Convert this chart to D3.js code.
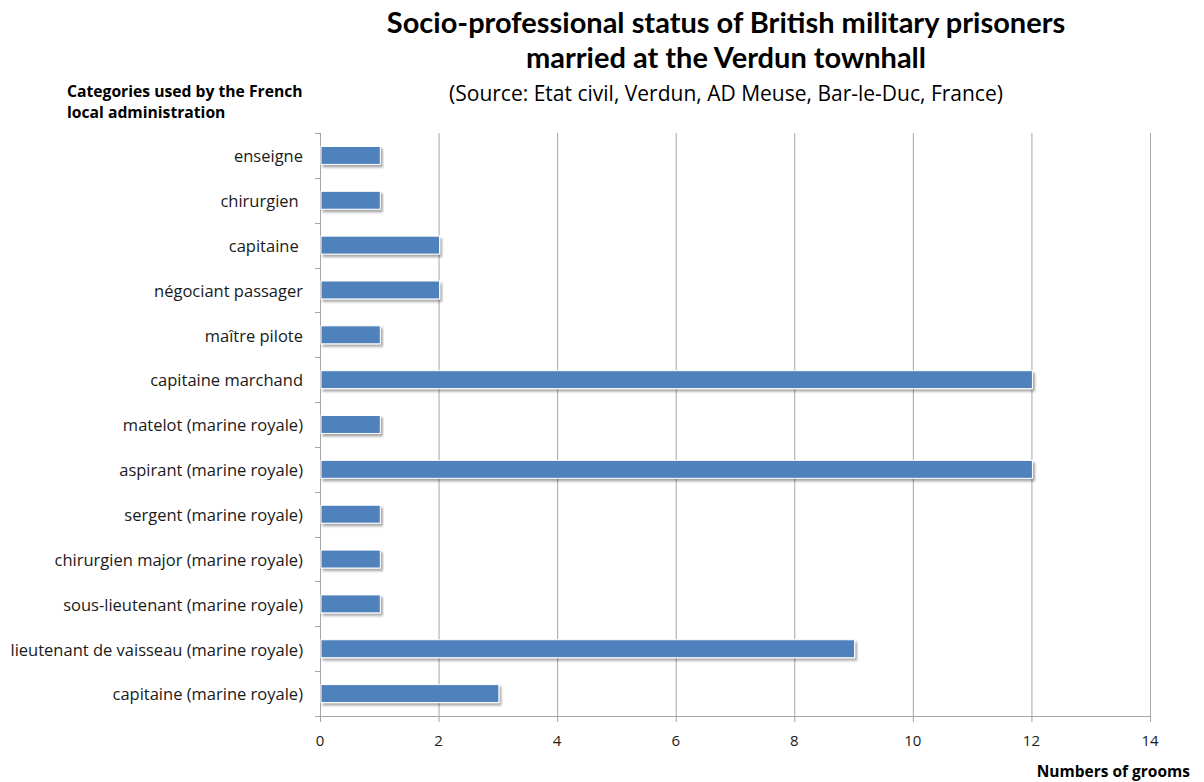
<!DOCTYPE html>
<html>
<head>
<meta charset="utf-8">
<script src="https://cdn.jsdelivr.net/npm/d3@7"></script>
<style>
  html, body { margin: 0; padding: 0; background: #fff; }
  svg { display: block; font-family: "Open Sans", Lato, sans-serif; }
  .cat { white-space: pre; }
  .title { font-family: Lato, "Open Sans", sans-serif; }
</style>
</head>
<body>
<svg id="chart" width="1204" height="782"></svg>
<script>
// Occupations as recorded in the civil register, top to bottom
const categories = [
  "enseigne",
  "chirurgien ",
  "capitaine ",
  "négociant passager",
  "maître pilote",
  "capitaine marchand",
  "matelot (marine royale)",
  "aspirant (marine royale)",
  "sergent (marine royale)",
  "chirurgien major (marine royale)",
  "sous-lieutenant (marine royale)",
  "lieutenant de vaisseau (marine royale)",
  "capitaine (marine royale)"
];
// Number of grooms per occupation
const grooms = [1, 1, 2, 2, 1, 12, 1, 12, 1, 1, 1, 9, 3];
const xTicks = [0, 2, 4, 6, 8, 10, 12, 14];

const titleLines = [
  "Socio-professional status of British military prisoners",
  "married at the Verdun townhall"
];
const subtitle = "(Source: Etat civil, Verdun, AD Meuse, Bar-le-Duc, France)";
const yAxisTitle = ["Categories used by the French", "local administration"];
const xAxisTitle = "Numbers of grooms";

const svg = d3.select("#chart");
const plot = { left: 320, right: 1150, top: 133, bottom: 716 };

const x = d3.scaleLinear().domain([0, 14]).range([plot.left, plot.right]);
const y = d3.scaleBand().domain(categories).range([plot.top, plot.bottom]).paddingInner(0.6).paddingOuter(0.3);
const band = d3.scaleBand().domain(categories).range([plot.top, plot.bottom]);

const defs = svg.append("defs");
const f = defs.append("filter").attr("id", "shadow").attr("x", "-5%").attr("y", "-50%").attr("width", "110%").attr("height", "220%");
f.append("feDropShadow").attr("dx", 2).attr("dy", 2.5).attr("stdDeviation", 1.3)
  .attr("flood-color", "#000").attr("flood-opacity", 0.35);

// Vertical gridlines (extending below the axis as tick marks)
svg.append("g").selectAll("line").data(xTicks).join("line")
  .attr("x1", d => x(d) + 0.5).attr("x2", d => x(d) + 0.5)
  .attr("y1", plot.top).attr("y2", plot.bottom + 6)
  .attr("stroke", "#a6a6a6").attr("stroke-width", 1);

// Category axis tick marks at band boundaries
const bounds = categories.map(c => band(c)).concat([plot.bottom]);
svg.append("g").selectAll("line").data(bounds).join("line")
  .attr("x1", plot.left - 5).attr("x2", plot.left)
  .attr("y1", d => Math.round(d) + 0.5).attr("y2", d => Math.round(d) + 0.5)
  .attr("stroke", "#a6a6a6");

// Horizontal axis line
svg.append("line")
  .attr("x1", plot.left - 5).attr("x2", plot.right + 1)
  .attr("y1", plot.bottom + 0.5).attr("y2", plot.bottom + 0.5)
  .attr("stroke", "#a6a6a6");

// Bars
svg.append("g").selectAll("rect").data(categories).join("rect")
  .attr("x", x(0) + 1)
  .attr("y", d => y(d))
  .attr("width", (d, i) => x(grooms[i]) - x(0))
  .attr("height", y.bandwidth())
  .attr("fill", "#4f81bd")
  .attr("stroke", "#ffffff").attr("stroke-width", 1)
  .attr("filter", "url(#shadow)");

// Category labels
svg.append("g").selectAll("text").data(categories).join("text")
  .attr("class", "cat")
  .attr("x", 303)
  .attr("y", d => band(d) + band.bandwidth() / 2 + 1)
  .attr("dy", "0.35em")
  .attr("text-anchor", "end")
  .attr("font-size", 16.5)
  .attr("fill", "#1a1a1a")
  .text(d => d);

// Value axis labels
svg.append("g").selectAll("text").data(xTicks).join("text")
  .attr("x", d => x(d))
  .attr("y", 746)
  .attr("text-anchor", "middle")
  .attr("font-size", 15)
  .attr("fill", "#1a1a1a")
  .text(d => d);

// Titles
svg.append("g").selectAll("text").data(titleLines).join("text")
  .attr("class", "title")
  .attr("x", 726)
  .attr("y", (d, i) => 33 + i * 35)
  .attr("text-anchor", "middle")
  .attr("font-size", 29)
  .attr("font-weight", "bold")
  .attr("fill", "#000")
  .text(d => d);

svg.append("text")
  .attr("x", 726).attr("y", 101)
  .attr("text-anchor", "middle")
  .attr("font-size", 21)
  .attr("fill", "#000")
  .text(subtitle);

svg.append("g").selectAll("text").data(yAxisTitle).join("text")
  .attr("x", 67)
  .attr("y", (d, i) => 97 + i * 21)
  .attr("font-size", 15.7)
  .attr("font-weight", "bold")
  .attr("fill", "#000")
  .text(d => d);

svg.append("text")
  .attr("x", 1190).attr("y", 777)
  .attr("text-anchor", "end")
  .attr("font-size", 15.5)
  .attr("font-weight", "bold")
  .attr("fill", "#000")
  .text(xAxisTitle);
</script>
</body>
</html>
